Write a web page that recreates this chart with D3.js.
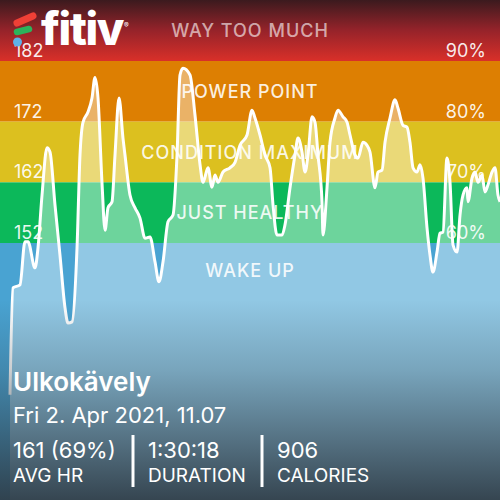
<!DOCTYPE html>
<html><head><meta charset="utf-8">
<script src="https://cdn.jsdelivr.net/npm/d3@7"></script>
<style>html,body{margin:0;padding:0;background:#fff}svg{display:block}</style>
</head><body>
<script>
const minutes = [0,0.55,1.84,2.76,3.32,4.61,5.16,5.9,6.82,7.37,8.29,9.21,10.14,10.69,11.43,12.35,12.9,13.45,14.37,15.11,15.66,16.22,16.95,17.51,18.06,18.8,19.35,20.09,20.82,21.19,22.11,23.04,23.96,24.88,25.8,26.72,27.46,28.2,29.12,30.04,30.78,31.33,31.88,33.17,34.09,35.02,35.57,36.49,37.23,37.78,38.33,39.25,40.54,41.47,42.39,43.68,44.6,45.15,46.07,47.0,47.92,48.47,49.2,50.13,50.68,51.6,52.52,53.08,53.81,54.37,54.92,55.66,56.21,56.76,57.5,57.68,58.42,58.97,59.89,60.45,61.37,62.11,62.66,63.58,64.13,65.05,65.79,66.34,67.27,67.82,68.56,69.11,70.03,70.95,71.51,72.43,73.16,73.71,74.27,75.0,75.56,76.11,76.85,77.4,77.95,78.69,79.24,79.8,80.53,81.09,81.64,82.38,82.93,83.48,84.22,84.4,85.14,85.69,86.25,86.98,87.54,88.09,88.83,89.38,89.93,90.3];
const heartRate = [127,144.6,145.1,152.2,152.2,147.9,151.2,159.9,167.7,167.0,158.3,150.0,141.3,138.8,139.0,151.2,166.5,171.9,173.6,175.9,179.3,175.9,162.0,154.1,157.8,158.8,166.5,175.9,169.3,166.5,159.9,157.8,156.1,152.8,153.0,148.9,145.6,148.9,155.5,156.6,166.5,179.7,180.8,179.7,173.1,164.9,162.0,164.4,161.2,163.2,162.0,163.7,164.4,165.3,168.1,169.8,173.9,172.6,169.8,166.5,164.4,158.3,153.3,153.3,155.0,161.1,166.5,169.3,167.0,163.7,166.5,172.8,171.9,166.5,158.8,153.3,161.1,168.6,172.6,173.9,172.8,171.9,169.8,166.5,166.0,168.6,168.1,167.0,161.1,163.7,164.0,168.6,172.6,175.6,174.2,171.4,171.1,168.6,164.4,163.7,164.9,162.7,154.5,150.0,147.2,150.5,153.6,153.8,166.0,162.0,151.7,150.5,156.6,159.9,161.1,158.8,162.7,163.7,162.0,163.2,160.4,161.6,163.7,164.4,159.9,158.8];
const zoneNames = ["WAY TOO MUCH","POWER POINT","CONDITION MAXIMUM","JUST HEALTHY","WAKE UP"];
const zoneLow = [182,172,162,152,100];
const zoneHigh = [230,182,172,162,152];
const zoneColors = ["url(#redGrad)","#dd7f02","#dcc01f","#0cb85a","#49a3d2"];
const hrTicks = [182,172,162,152];
const pctTicks = ["90%","80%","70%","60%"];
const title = "Ulkokävely";
const dateText = "Fri 2. Apr 2021, 11.07";
const statValues = ["161 (69%)","1:30:18","906"];
const statLabels = ["AVG HR","DURATION","CALORIES"];

const W = 500, H = 500;
const svg = d3.select("body").append("svg").attr("width", W).attr("height", H);
const defs = svg.append("defs");
const rg = defs.append("linearGradient").attr("id","redGrad").attr("x1",0).attr("y1",0).attr("x2",0).attr("y2",1);
rg.append("stop").attr("offset",0).attr("stop-color","#3b1a1e");
rg.append("stop").attr("offset",0.5).attr("stop-color","#96232a");
rg.append("stop").attr("offset",1).attr("stop-color","#d93029");
const bg = defs.append("linearGradient").attr("id","botGrad").attr("x1",0).attr("y1",0).attr("x2",0).attr("y2",1);
bg.append("stop").attr("offset",0).attr("stop-color","#2e3a44").attr("stop-opacity",0);
bg.append("stop").attr("offset",0.35).attr("stop-color","#2e3a44").attr("stop-opacity",0.25);
bg.append("stop").attr("offset",1).attr("stop-color","#2e3a44").attr("stop-opacity",0.92);

const y = d3.scaleLinear().domain([152,182]).range([243,61]);
const x = d3.scaleLinear().domain([0,90.3]).range([10,500]);

svg.selectAll("rect.zone").data(zoneNames).join("rect").attr("class","zone")
  .attr("x",0).attr("width",W)
  .attr("y",(d,i)=>Math.max(0,y(zoneHigh[i])))
  .attr("height",(d,i)=>Math.min(H,y(zoneLow[i])) - Math.max(0,y(zoneHigh[i])))
  .attr("fill",(d,i)=>zoneColors[i]);

const pts = minutes.map((m,i)=>[m,heartRate[i]]);
const area = d3.area().x(d=>x(d[0])).y0(H).y1(d=>y(d[1])).curve(d3.curveMonotoneX);
const line = d3.line().x(d=>x(d[0])).y(d=>y(d[1])).curve(d3.curveMonotoneX);
svg.append("path").datum(pts).attr("d",area).attr("fill","#fff").attr("fill-opacity",0.4);

// zone labels, centred 5 bpm inside each band edge
const labelHr = (i)=> i < zoneNames.length-1 ? zoneLow[i]+5 : zoneHigh[i]-4.5;
svg.selectAll("text.zl").data(zoneNames).join("text").attr("class","zl")
  .attr("x",250).attr("y",(d,i)=>y(labelHr(i)))
  .attr("text-anchor","middle").attr("dominant-baseline","central")
  .attr("font-family","Inter, 'DejaVu Sans', sans-serif").attr("font-size",18).attr("font-weight",500)
  .attr("letter-spacing",1)
  .attr("fill","#fff").attr("fill-opacity",(d,i)=>i===0?0.62:0.88).text(d=>d);

svg.append("path").datum(pts).attr("d",line).attr("fill","none").attr("stroke","#fff").attr("stroke-width",3).attr("stroke-linejoin","round");

// tick labels
svg.selectAll("text.hl").data(hrTicks).join("text").attr("class","hl")
  .attr("x",14).attr("y",d=>y(d)-4)
  .attr("font-family","Inter, sans-serif").attr("font-size",18).attr("fill","#fff").attr("fill-opacity",0.92).text(d=>d);
svg.selectAll("text.pl").data(pctTicks).join("text").attr("class","pl")
  .attr("x",486).attr("y",(d,i)=>y(hrTicks[i])-4).attr("text-anchor","end")
  .attr("font-family","Inter, sans-serif").attr("font-size",18).attr("fill","#fff").attr("fill-opacity",0.92).text(d=>d);

// bottom gradient
svg.append("rect").attr("x",0).attr("y",300).attr("width",W).attr("height",200).attr("fill","url(#botGrad)");

// logo
const lg = svg.append("g");
lg.append("line").attr("x1",17).attr("y1",23).attr("x2",33).attr("y2",16).attr("stroke","#ef4036").attr("stroke-width",7).attr("stroke-linecap","round");
lg.append("line").attr("x1",17).attr("y1",32).attr("x2",29).attr("y2",29).attr("stroke","#2bb35b").attr("stroke-width",6.5).attr("stroke-linecap","round");
lg.append("circle").attr("cx",17.5).attr("cy",42).attr("r",4.5).attr("fill","#5fb1e8");
lg.append("text").attr("x",41).attr("y",45).attr("font-family","Inter, sans-serif").attr("font-weight",800).attr("font-size",45).attr("letter-spacing",-1.5).attr("fill","#fff").text("fitiv");
lg.append("text").attr("x",124).attr("y",28).attr("font-family","Inter, sans-serif").attr("font-size",7).attr("fill","#fff").text("®");

// bottom text
const ff = "Inter, 'DejaVu Sans', sans-serif";
svg.append("text").attr("x",13).attr("y",391).attr("font-family",ff).attr("font-size",26).attr("font-weight",600).attr("fill","#fff").text(title);
svg.append("text").attr("x",13).attr("y",423).attr("font-family",ff).attr("font-size",22).attr("fill","#fff").text(dateText);
const colX = [13,148,277];
svg.selectAll("text.sv").data(statValues).join("text").attr("class","sv")
  .attr("x",(d,i)=>colX[i]).attr("y",458).attr("font-family",ff).attr("font-size",22).attr("fill","#fff").text(d=>d);
svg.selectAll("text.sl").data(statLabels).join("text").attr("class","sl")
  .attr("x",(d,i)=>colX[i]).attr("y",482).attr("font-family",ff).attr("font-size",19).attr("fill","#fff").text(d=>d);
svg.selectAll("line.div").data([133,262]).join("line").attr("class","div")
  .attr("x1",d=>d).attr("x2",d=>d).attr("y1",435).attr("y2",487).attr("stroke","#fff").attr("stroke-width",3);
</script>
</body></html>
